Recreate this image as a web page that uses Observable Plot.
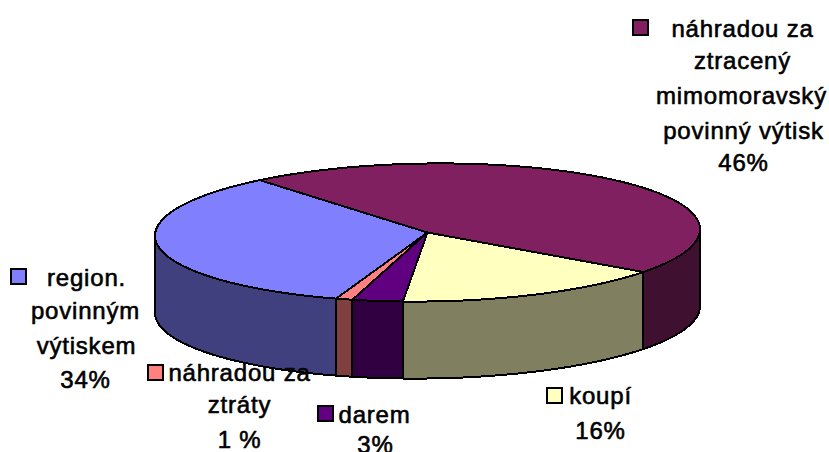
<!DOCTYPE html>
<html><head><meta charset="utf-8">
<script src="https://cdn.jsdelivr.net/npm/d3@7"></script>
<script src="https://cdn.jsdelivr.net/npm/@observablehq/plot@0.6"></script>
<style>html,body{margin:0;padding:0;background:#fff;overflow:hidden}svg{display:block}</style>
</head><body><div id="chart"></div>
<script>
// Data, in the picture's clockwise order starting from the back of the pie
const categories = ["mimo","koupi","darem","ztraty","region"];
const shares = [46, 16, 3, 1, 34];
const topColors = ["#802060","#FFFFC0","#600080","#FF8080","#8080FF"];
const sideColors = ["#401030","#808060","#300040","#804040","#40407F"];

// Label lines [text, centre x, baseline y]
const labelText = ["náhradou za","ztracený","mimomoravský","povinný výtisk","46%",
  "region.","povinným","výtiskem","34%",
  "náhradou za","ztráty","1 %",
  "darem","3%",
  "koupí","16%"];
const labelX = [742,742,741,743,743, 86,85,86,85, 239,239,239, 374,375, 600,600];
const labelY = [36,68,103,138,170, 285,318,353,387, 380,412,447, 422,452, 403,438];
// Legend swatch centres, one per category
const swatchX = [640,554,325,155,18];
const swatchY = [27,395,413,372,276];

// Pie projection (pixel space, fed through the identity-like x and y scales)
const cx = 427, cy = 232, rx = 272.5, ry = 69, depth = 77, startAngle = -38, tilt = -0.012;
const rad = d => d * Math.PI / 180;
const px = a => cx + rx * Math.sin(rad(a));
const py = a => cy - ry * Math.cos(rad(a)) + tilt * rx * Math.sin(rad(a));

function arcAngles(a0, a1) {
  const out = [];
  for (let a = a0; a < a1; a += 1.5) out.push(a);
  out.push(a1);
  return out;
}
const topPts = [], wallPts = [];
let acc = startAngle;
const total = d3.sum(shares);
categories.forEach((c, i) => {
  const a0 = acc, a1 = acc + shares[i] / total * 360;
  acc = a1;
  const ring = [{x: cx, y: cy}, ...arcAngles(a0, a1).map(a => ({x: px(a), y: py(a)})), {x: cx, y: cy}];
  ring.forEach(p => topPts.push({...p, key: c, fill: topColors[i]}));
  const w0 = Math.max(a0, 90), w1 = Math.min(a1, 270);
  if (w1 > w0) {
    const arc = arcAngles(w0, w1);
    const wall = [...arc.map(a => ({x: px(a), y: py(a)})),
                  ...arc.slice().reverse().map(a => ({x: px(a), y: py(a) + depth}))];
    wall.push(wall[0]);
    wall.forEach(p => wallPts.push({...p, key: c, fill: sideColors[i]}));
  }
});

const labels = labelText.map((t, i) => ({t, x: labelX[i], y: labelY[i]}));
const swatches = categories.map((c, i) => ({x: swatchX[i], y: swatchY[i], fill: topColors[i]}));

const chart = Plot.plot({
  width: 829, height: 452, margin: 0,
  x: {domain: [0, 829], range: [0, 829], axis: null},
  y: {domain: [0, 452], range: [0, 452], axis: null},
  color: {type: "identity"},
  style: {background: "#fff", letterSpacing: "0.8px"},
  marks: [
    Plot.line(wallPts, {x: "x", y: "y", z: "key", fill: "fill", stroke: "#000", strokeWidth: 2, curve: "linear", shapeRendering: "crispEdges"}),
    Plot.line(topPts, {x: "x", y: "y", z: "key", fill: "fill", stroke: "#000", strokeWidth: 2, curve: "linear", shapeRendering: "crispEdges"}),
    Plot.dot(swatches, {x: "x", y: "y", symbol: "square", r: 8.5, fill: "fill", stroke: "#000", strokeWidth: 2, shapeRendering: "crispEdges"}),
    Plot.text(labels, {x: "x", y: "y", text: "t", lineAnchor: "bottom", fontFamily: "Liberation Sans", fontSize: 24, fill: "#000", stroke: "#000", strokeWidth: 0.6})
  ]
});
document.getElementById("chart").append(chart);
</script></body></html>
